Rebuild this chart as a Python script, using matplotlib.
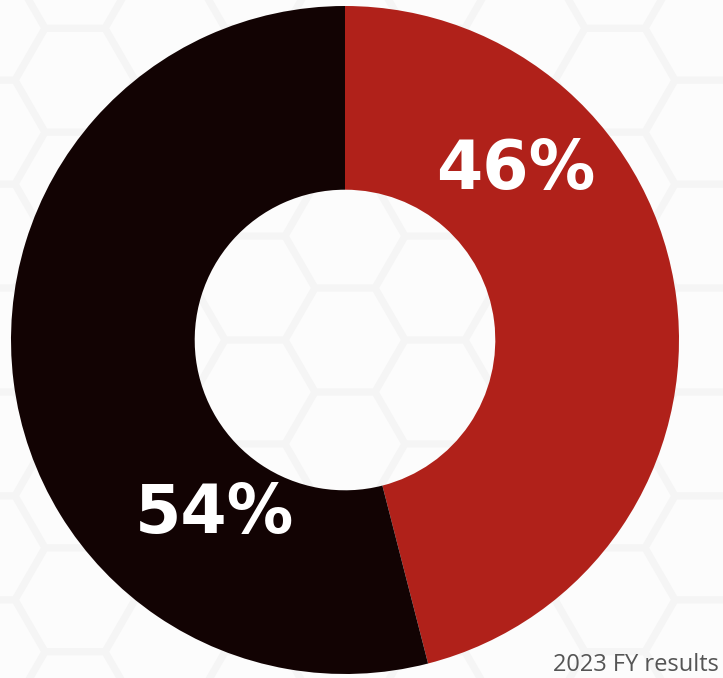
import numpy as np
from matplotlib import pyplot as plt
from matplotlib.patches import RegularPolygon

# data
labels = ['46%', '54%']
shares = [46, 54]
colors = ['#b0211a', '#120303']
label_pos = [(0.51, 0.51), (-0.39, -0.52)]
footnote = '2023 FY results'

fig = plt.figure(figsize=(7.23, 6.78), dpi=100)
fig.patch.set_facecolor('#f5f5f5')
ax = fig.add_axes([0, 0, 1, 1])
ax.set_facecolor('#f5f5f5')

# pie radius 1 == 334 px, centre at (345, 340) px from top-left
scale = 334.0

# faint hexagon background
r = 60 / scale
dx = 1.5 * r
dy = np.sqrt(3) * r
for i in range(-8, 9):
    for j in range(-8, 9):
        cx = i * dx
        cy = j * dy + (dy / 2 if i % 2 else 0)
        ax.add_patch(RegularPolygon((cx, cy), 6, radius=r * 0.93,
                                    orientation=np.pi / 6,
                                    facecolor='#fcfcfc', edgecolor='none',
                                    zorder=0))

wedges, _ = ax.pie(shares, colors=colors, startangle=90, counterclock=False,
                   radius=1.0, wedgeprops=dict(width=0.55, edgecolor='none'),
                   frame=True)
ax.set_xlim(-345 / scale, (723 - 345) / scale)
ax.set_ylim(-338 / scale, (678 - 338) / scale)
ax.set_aspect('auto')
ax.axis('off')

for lab, (x, y) in zip(labels, label_pos):
    ax.text(x, y, lab, color='white', fontsize=48, fontweight='bold',
            ha='center', va='center', family='DejaVu Sans')

fig.text(719 / 723, 1 - 671 / 678, footnote, fontsize=17, color='#555555',
         family='Open Sans', ha='right', va='baseline')

plt.savefig('out.png', dpi=100, facecolor=fig.get_facecolor())
